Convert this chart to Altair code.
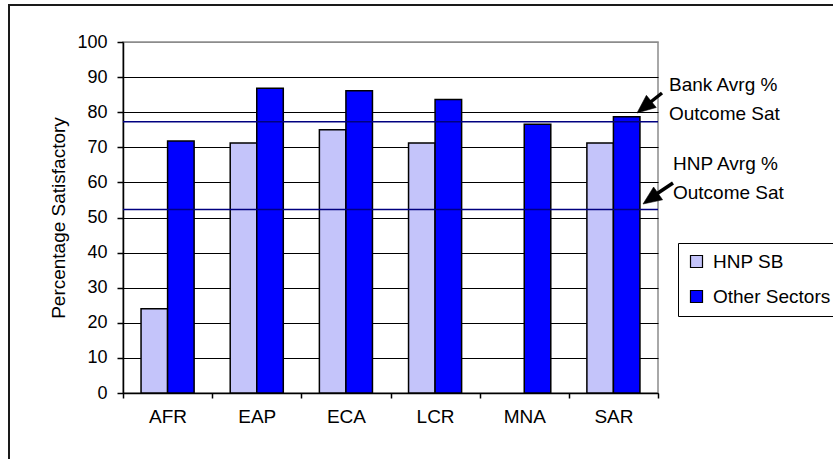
import altair as alt
import pandas as pd

# Regional outcome ratings
regions = ["AFR", "EAP", "ECA", "LCR", "MNA", "SAR"]
hnp_sb = [24.0, 71.2, 75.0, 71.2, None, 71.2]
other_sectors = [71.8, 86.8, 86.1, 83.6, 76.6, 78.7]
series_names = ["HNP SB", "Other Sectors"]
series_colors = ["#c4c4fa", "#0000ff"]

# Reference averages
avg_labels = ["Bank Avrg %\nOutcome Sat", "HNP Avrg %\nOutcome Sat"]
avg_values = [77.3, 52.3]

y_ticks = list(range(0, 101, 10))

FONT = "Liberation Sans"
W, H = 535, 351

rows = []
for r, a, b in zip(regions, hnp_sb, other_sectors):
    if a is not None:
        rows.append({"region": r, "series": series_names[0], "value": a})
    rows.append({"region": r, "series": series_names[1], "value": b})
bars_df = pd.DataFrame(rows)
avg_df = pd.DataFrame({"label": avg_labels, "value": avg_values})
one = pd.DataFrame({"k": [0]})

x_enc = alt.X(
    "region:N",
    sort=regions,
    scale=alt.Scale(paddingInner=0, paddingOuter=0),
    axis=alt.Axis(
        title=None,
        labelAngle=0,
        labelFont=FONT,
        labelFontSize=19,
        labelColor="black",
        labelPadding=9,
        tickBand="extent",
        tickSize=5,
        tickColor="black",
        tickWidth=1.5,
        domainColor="black",
        domainWidth=1.5,
        grid=False,
    ),
)

y_enc = alt.Y(
    "value:Q",
    scale=alt.Scale(domain=[0, 100], nice=False),
    axis=alt.Axis(
        title="Percentage Satisfactory",
        titleFont=FONT,
        titleFontSize=19,
        titleFontWeight="normal",
        titleColor="black",
        titlePadding=8,
        values=y_ticks,
        labelFont=FONT,
        labelFontSize=18,
        labelColor="black",
        labelPadding=10,
        tickSize=6,
        tickColor="black",
        tickWidth=1.5,
        domainColor="black",
        domainWidth=1.5,
        grid=True,
        gridColor={"condition": {"test": "datum.value == 100", "value": "#8c8c8c"}, "value": "black"},
        gridWidth=1,
    ),
)

bars = alt.Chart(bars_df).mark_bar(stroke="black", strokeWidth=1.5).encode(
    x=x_enc,
    xOffset=alt.XOffset(
        "series:N",
        sort=series_names,
        scale=alt.Scale(domain=series_names, paddingInner=0, paddingOuter=0.68),
    ),
    y=y_enc,
    color=alt.Color(
        "series:N",
        scale=alt.Scale(domain=series_names, range=series_colors),
        legend=alt.Legend(
            title=None,
            orient="none",
            legendX=555,
            legendY=201,
            labelFont=FONT,
            labelFontSize=19,
            labelColor="black",
            labelOffset=7,
            symbolType="square",
            symbolSize=144,
            symbolStrokeColor="black",
            symbolStrokeWidth=1.2,
            rowPadding=15,
            padding=9,
            strokeColor="black",
            fillColor="white",
        ),
    ),
)

avg_lines = alt.Chart(avg_df).mark_rule(color="#000080", strokeWidth=1.6).encode(
    y=y_enc
)


def label(text, px, py):
    """Two-line note beside the plot, first line centred at py."""
    return alt.Chart(one).mark_text(
        align="left", baseline="middle", font=FONT, fontSize=19, lineHeight=29,
        lineBreak="\n", color="black", text=text,
    ).encode(x=alt.value(px), y=alt.value(py))


def arrow(x0, y0, x1, y1, ang):
    """Thick black arrow from (x0, y0) to a head at (x1, y1)."""
    shaft = alt.Chart(one).mark_rule(color="black", strokeWidth=3.5).encode(
        x=alt.value(x0), y=alt.value(y0), x2=alt.value(x1 + 6), y2=alt.value(y1 - 5)
    )
    head = alt.Chart(one).mark_point(
        shape="M0,0 L0.85,2 L-0.85,2 Z", filled=True, fill="black", opacity=1,
        stroke="black", strokeWidth=0.5, size=340,
    ).encode(x=alt.value(x1), y=alt.value(y1), angle=alt.value(ang))
    return [shaft, head]


# Outer chart frame
frame = alt.Chart(one).mark_rect(
    fill=None, stroke="#1a1a1a", strokeWidth=2
).encode(
    x=alt.value(-114), x2=alt.value(730),
    y=alt.value(-37), y2=alt.value(440),
)

layers = [frame, bars, avg_lines]
layers += arrow(539, 51, 514, 71, 231)
layers += arrow(550, 141, 520, 162, 235)
layers += [label(avg_labels[0], 546, 43), label(avg_labels[1], 550, 122)]

chart = alt.layer(*layers).properties(
    width=W,
    height=H,
    autosize=alt.AutoSizeParams(type="none"),
    padding={"left": 123, "top": 42, "right": 175, "bottom": 66},
    background="white",
).configure_view(
    stroke="#8c8c8c", strokeWidth=1.5
)

chart.save("out.html", embed_options={"renderer": "svg", "actions": False})
